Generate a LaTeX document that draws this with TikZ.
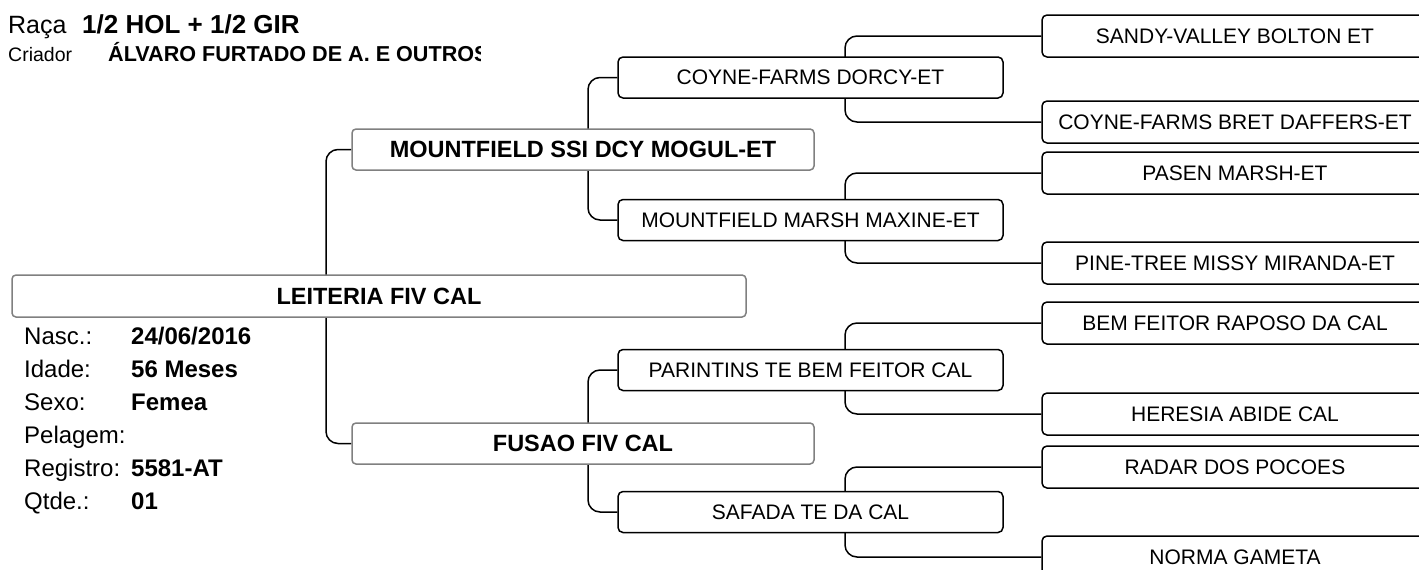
\documentclass[tikz,border=0pt]{standalone}
\usepackage{fontspec}
\setmainfont{Liberation Sans}
\usetikzlibrary{calc}
\definecolor{boxgray}{RGB}{128,128,128}
\pgfdeclarelayer{background}
\pgfsetlayers{background,main}
\begin{document}
\begin{tikzpicture}[x=1pt,y=-1pt,
  rootbox/.style={draw=boxgray, line width=1.5pt, rounded corners=4pt, fill=white,
    minimum width=734pt, minimum height=42pt, inner sep=0pt,
    font=\fontsize{23.5}{28}\selectfont\bfseries},
  parbox/.style={draw=boxgray, line width=1.5pt, rounded corners=4pt, fill=white,
    minimum width=462pt, minimum height=41pt, inner sep=0pt,
    font=\fontsize{23.5}{28}\selectfont\bfseries},
  gpbox/.style={draw=black, line width=1.5pt, rounded corners=5pt, fill=white,
    minimum width=385pt, minimum height=41pt, inner sep=0pt,
    font=\fontsize{21}{25}\selectfont},
  ggbox/.style={draw=black, line width=1.5pt, rounded corners=5pt, fill=white,
    minimum width=386pt, minimum height=42pt, inner sep=0pt,
    font=\fontsize{21}{25}\selectfont},
  conn/.style={draw=black, line width=1.5pt, rounded corners=12pt},
  lbl/.style={anchor=base west, inner sep=0pt, font=\fontsize{24}{28}\selectfont},
  val/.style={anchor=base west, inner sep=0pt, font=\fontsize{24}{28}\selectfont\bfseries}
]
\useasboundingbox (0,0) rectangle (1419,570);
\clip (0,0) rectangle (1419,570);

% header
\node[anchor=base west, inner sep=0pt, font=\fontsize{25}{30}\selectfont] (raca) at (8,33) {Raça};
\node[anchor=base west, inner sep=0pt, font=\fontsize{26}{30}\selectfont\bfseries] (racaval) at (82,33) {1/2 HOL + 1/2 GIR};
\node[anchor=base west, inner sep=0pt, font=\fontsize{19.5}{23}\selectfont] (criador) at (8,61) {Criador};
\begin{scope}
  \clip (100,35) rectangle (480,75);
  \node[anchor=base west, inner sep=0pt, font=\fontsize{21.6}{25}\selectfont\bfseries] (criadorval) at (108,61) {ÁLVARO FURTADO DE A. E OUTROS};
\end{scope}

% info
\node[lbl] (lnasc) at (24,344) {Nasc.:};
\node[val] (vnasc) at (131,344) {24/06/2016};
\node[lbl] (lidade) at (24,377) {Idade:};
\node[val] (vidade) at (131,377) {56 Meses};
\node[lbl] (lsexo) at (24,410) {Sexo:};
\node[val] (vsexo) at (131,410) {Femea};
\node[lbl] (lpel) at (24,443) {Pelagem:};
\node[lbl] (lreg) at (24,476) {Registro:};
\node[val] (vreg) at (131,476) {5581-AT};
\node[lbl] (lqtde) at (24,509) {Qtde.:};
\node[val] (vqtde) at (131,509) {01};

% boxes
\node[rootbox] (root) at (379,296) {LEITERIA FIV CAL};
\node[parbox] (mogul) at (583,149.5) {MOUNTFIELD SSI DCY MOGUL-ET};
\node[parbox] (fusao) at (583,443.5) {FUSAO FIV CAL};

\node[gpbox] (dorcy) at (810.5,77.5) {COYNE-FARMS DORCY-ET};
\node[gpbox] (marsh) at (810.5,220) {MOUNTFIELD MARSH MAXINE-ET};
\node[gpbox] (parintins) at (810.5,370) {PARINTINS TE BEM FEITOR CAL};
\node[gpbox] (safada) at (810.5,512) {SAFADA TE DA CAL};

\node[ggbox] (sandy) at (1235,36) {SANDY-VALLEY BOLTON ET};
\node[ggbox] (bret) at (1235,122) {COYNE-FARMS BRET DAFFERS-ET};
\node[ggbox] (pasen) at (1235,173) {PASEN MARSH-ET};
\node[ggbox] (pine) at (1235,263) {PINE-TREE MISSY MIRANDA-ET};
\node[ggbox] (bem) at (1235,323) {BEM FEITOR RAPOSO DA CAL};
\node[ggbox] (heresia) at (1235,414) {HERESIA ABIDE CAL};
\node[ggbox] (radar) at (1235,467) {RADAR DOS POCOES};
\node[ggbox] (norma) at (1235,557) {NORMA GAMETA};

% junction points
\coordinate (jr) at (326,296);
\coordinate (jm) at (588,149.5);
\coordinate (jf) at (588,443.5);
\coordinate (jd) at (845,77.5);
\coordinate (jx) at (845,220);
\coordinate (jp) at (845,370);
\coordinate (js) at (845,512);

\begin{pgfonlayer}{background}
\draw[conn] (mogul.west) -| (jr) |- (fusao.west);
\draw[conn] (dorcy.west) -| (jm) |- (marsh.west);
\draw[conn] (parintins.west) -| (jf) |- (safada.west);
\draw[conn] (sandy.west) -| (jd) |- (bret.west);
\draw[conn] (pasen.west) -| (jx) |- (pine.west);
\draw[conn] (bem.west) -| (jp) |- (heresia.west);
\draw[conn] (radar.west) -| (js) |- (norma.west);
\end{pgfonlayer}
\end{tikzpicture}
\end{document}
